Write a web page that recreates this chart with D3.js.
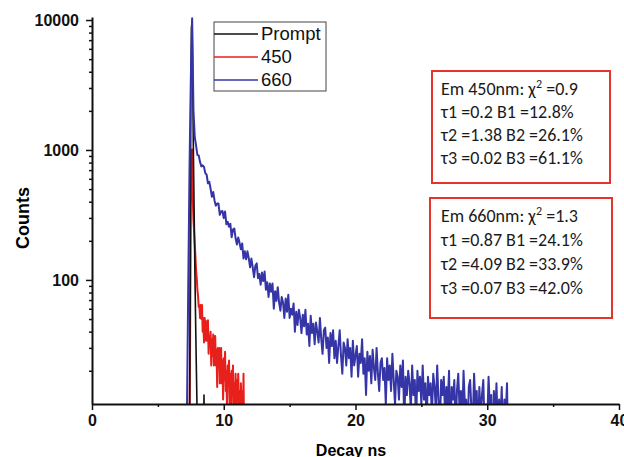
<!DOCTYPE html>
<html>
<head>
<meta charset="utf-8">
<script src="https://cdn.jsdelivr.net/npm/d3@7"></script>
<style>
  body { margin: 0; background: #fff; }
  svg { display: block; }
</style>
</head>
<body>
<svg id="chart" width="624" height="457"></svg>
<script>
// channel grid (ns): start + step, counts
const t0_660 = 7.0, dt_660 = 0.1
const counts_660 = [3,5,8,80,700,3500,10300,2027,1253,1079,914,909,807,748,761,740,664,645,554,570,505,436,475,409,373,388,387,317,337,339,299,336,268,280,257,271,213,244,249,209,187,212,193,172,191,146,166,
  144,166,147,125,146,125,105,129,134,103,111,92,114,98,
  116,84,96,74,94,81,94,60,82,69,88,67,58,
  74,67,51,72,57,77,51,60,54,66,40,57,45,
  59,51,39,54,44,59,38,46,31,53,39,46,
  32,47,40,33,51,35,27,41,43,30,36,23,39,
  31,41,25,34,23,31,41,26,19,33,30,22,35,25,30,18,34,22,26,31,18,27,23,35,19,
  25,13,28,20,26,16,29,21,17,30,19,14,23,25,17,21,11,25,17,22,14,27,17,11,20,18,
  12,22,15,24,8,18,13,20,16,10,22,13,17,8,20,14,18,11,22,12,16,8,18,13,16,
  9,19,15,10,22,12,7,17,13,18,9,15,11,20,6,15,12,17,7,14,19,10,14,8,20,11,12,6,15,17,10,8,19,11,14,6,15,9,13,17,7,11,8,18,10,13,4,14,9,16,7,12,8,15,5,12,9,16,4,3]

const t0_450 = 7.3, dt_450 = 0.05
const counts_450 = [3,4,5,40,420,960,1010,420,290,236,188,152,118,104,84,75,62,64,
  51,64,50,64,40,51,33,51,44,34,48,
  34,49,27,37,33,40,22,35,26,38,
  22,29,37,22,29,15,30,22,30,16,23,30,16,24,12,
  25,17,28,14,20,10,22,16,24,11,19,8,20,13,22,
  9,16,11,19,7,17,12,19,9,14,6,16,10,14,7,19,5,3,2]

const t0_prompt = 7.3, dt_prompt = 0.05
const counts_prompt = [2,3,8,60,2800,8800,9800,3000,900,350,140,60,28,14,7,4,3,2,3,2,3,2,3,4,13,3,2,2]

const xTicks = [0, 10, 20, 30, 40]
const xMinor = [5, 15, 25, 35]
const yTicks = [100, 1000, 10000]

const seriesNames = ["Prompt", "450", "660"]
const seriesColors = ["#111111", "#e8201c", "#3535a8"]

const box450 = ["Em 450nm: χ|2| =0.9", "τ1 =0.2 B1 =12.8%", "τ2 =1.38 B2 =26.1%", "τ3 =0.02 B3 =61.1%"]
const box660 = ["Em 660nm: χ|2| =1.3", "τ1 =0.87 B1 =24.1%", "τ2 =4.09 B2 =33.9%", "τ3 =0.07 B3 =42.0%"]

const toPoints = (t0, dt, arr) => arr.map((c, i) => ({ t: t0 + i * dt, c }))
const series = [
  toPoints(t0_prompt, dt_prompt, counts_prompt),
  toPoints(t0_450, dt_450, counts_450),
  toPoints(t0_660, dt_660, counts_660)
]

const svg = d3.select("#chart")
const x = d3.scaleLinear().domain([0, 40]).range([92, 619])
const y = d3.scaleLog().domain([11.1, 10550]).range([404, 17])

svg.append("defs").append("clipPath").attr("id", "plotclip")
  .append("rect").attr("x", 92).attr("y", 17).attr("width", 527).attr("height", 387)

const line = d3.line().x((d) => x(d.t)).y((d) => y(d.c))

// draw order: 450, prompt, 660 on top
const order = [1, 0, 2]
const gLines = svg.append("g").attr("clip-path", "url(#plotclip)")
order.forEach((k) => {
  gLines.append("path")
    .datum(series[k])
    .attr("d", line)
    .attr("fill", "none")
    .attr("stroke", seriesColors[k])
    .attr("stroke-width", k === 0 ? 1.6 : 2)
    .attr("stroke-linejoin", "round")
})

// axes
const axisFont = "'Liberation Sans', Arial, sans-serif"
const gx = svg.append("g").attr("transform", "translate(0,404)")
gx.call(d3.axisBottom(x).tickValues(xTicks).tickSize(6).tickSizeOuter(0).tickPadding(5).tickFormat(d3.format("d")))
svg.append("g").attr("transform", "translate(0,404)")
  .call(d3.axisBottom(x).tickValues(xMinor).tickSize(3).tickSizeOuter(0).tickFormat(""))
  .select(".domain").remove()

const gy = svg.append("g").attr("transform", "translate(92,0)")
gy.call(d3.axisLeft(y).tickValues(yTicks).tickSize(6).tickSizeOuter(0).tickPadding(7).tickFormat(d3.format("d")))
const minorY = y.ticks().filter((v) => yTicks.indexOf(v) < 0)
svg.append("g").attr("transform", "translate(92,0)")
  .call(d3.axisLeft(y).tickValues(minorY).tickSize(3).tickSizeOuter(0).tickFormat(""))
  .select(".domain").remove()

svg.selectAll(".domain").attr("stroke", "#111").attr("stroke-width", 2)
svg.selectAll(".tick line").attr("stroke", "#111").attr("stroke-width", 1.5)
svg.selectAll(".tick text").attr("font-family", axisFont).attr("font-weight", "bold").attr("font-size", 16).attr("fill", "#111")

svg.append("text")
  .attr("transform", "translate(29,218) rotate(-90)")
  .attr("text-anchor", "middle")
  .attr("font-family", axisFont).attr("font-weight", "bold").attr("font-size", 18)
  .text("Counts")

svg.append("text")
  .attr("x", 351).attr("y", 456)
  .attr("text-anchor", "middle")
  .attr("font-family", axisFont).attr("font-weight", "bold").attr("font-size", 16)
  .text("Decay ns")

// legend
const lg = svg.append("g")
lg.append("rect").attr("x", 214).attr("y", 22).attr("width", 112).attr("height", 69)
  .attr("fill", "#fff").attr("stroke", "#444").attr("stroke-width", 1)
seriesNames.forEach((name, i) => {
  const yy = 34 + i * 23
  lg.append("line").attr("x1", 214).attr("x2", 258).attr("y1", yy).attr("y2", yy)
    .attr("stroke", seriesColors[i]).attr("stroke-width", 1.6)
  lg.append("text").attr("x", 261).attr("y", yy + 6)
    .attr("font-family", "Arial, 'Liberation Sans', sans-serif").attr("font-size", 18.5).attr("fill", "#111")
    .text(name)
})

// fit result boxes
function fitBox(lines, bx, by, bw, bh, ty0, step) {
  const g = svg.append("g")
  g.append("rect").attr("x", bx).attr("y", by).attr("width", bw).attr("height", bh)
    .attr("fill", "#fff").attr("stroke", "#e5352a").attr("stroke-width", 2)
  lines.forEach((s, i) => {
    const t = g.append("text").attr("x", 441).attr("y", ty0 + i * step)
      .attr("font-family", "Carlito, Lato, 'Open Sans', sans-serif").attr("font-size", 18).attr("fill", "#1a1a1a")
    const parts = s.split("|")
    t.append("tspan").text(parts[0])
    if (parts.length > 1) {
      t.append("tspan").attr("dy", -7).attr("font-size", 12).text(parts[1])
      t.append("tspan").attr("dy", 7).text(parts[2])
    }
  })
}
fitBox(box450, 432, 71, 178, 112, 95, 23)
fitBox(box660, 430, 198, 182, 120, 222, 24)
</script>
</body>
</html>
